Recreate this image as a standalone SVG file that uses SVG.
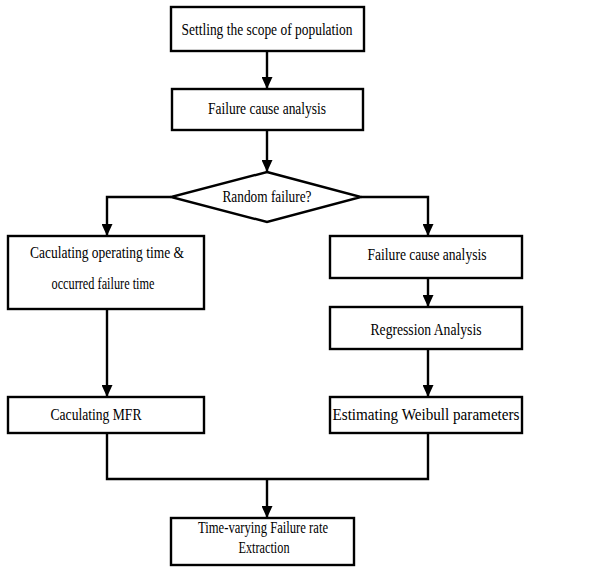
<svg xmlns="http://www.w3.org/2000/svg" width="600" height="568" viewBox="0 0 600 568">
<style>
.box{fill:#fff;stroke:#000;stroke-width:2.4}
.t{font-family:"Liberation Serif","Times New Roman",serif;font-size:16px;fill:#000;text-anchor:middle}
.c{fill:none;stroke:#000;stroke-width:2.4}
</style>
<defs>
<marker id="ah" markerUnits="userSpaceOnUse" markerWidth="12" markerHeight="11" refX="12" refY="5.5" orient="auto">
<path d="M0,0 L12,5.5 L0,11 z" fill="#000"/>
</marker>
</defs>
<rect width="600" height="568" fill="#fff"/>
<g id="connectors">
<path class="c" d="M267,51 V89" marker-end="url(#ah)"/>
<path class="c" d="M267,130 V172" marker-end="url(#ah)"/>
<path class="c" d="M171,197 H107 V236" marker-end="url(#ah)"/>
<path class="c" d="M361,197 H428 V236" marker-end="url(#ah)"/>
<path class="c" d="M428,278 V307" marker-end="url(#ah)"/>
<path class="c" d="M428,349 V397" marker-end="url(#ah)"/>
<path class="c" d="M107,309 V397" marker-end="url(#ah)"/>
<path class="c" d="M107,433 V479 H428 V433"/>
<path class="c" d="M267,479 V518" marker-end="url(#ah)"/>
</g>
<g id="n1"><rect class="box" x="171" y="7" width="193" height="44"/><text class="t" x="267" y="35" textLength="171" lengthAdjust="spacingAndGlyphs">Settling the scope of population</text></g>
<g id="n2"><rect class="box" x="172" y="89" width="191" height="41"/><text class="t" x="267" y="114" textLength="118" lengthAdjust="spacingAndGlyphs">Failure cause analysis</text></g>
<g id="n3"><polygon class="box" points="267,172 361,197 267,222 171,197"/><text class="t" x="267" y="202" textLength="89" lengthAdjust="spacingAndGlyphs">Random failure?</text></g>
<g id="n4"><rect class="box" x="8" y="236" width="196" height="73"/><text class="t" x="107" y="258" textLength="154" lengthAdjust="spacingAndGlyphs">Caculating operating time &amp;</text><text class="t" x="103" y="289" textLength="103" lengthAdjust="spacingAndGlyphs">occurred failure time</text></g>
<g id="n5"><rect class="box" x="330" y="236" width="192" height="42"/><text class="t" x="427" y="260" textLength="119" lengthAdjust="spacingAndGlyphs">Failure cause analysis</text></g>
<g id="n6"><rect class="box" x="330" y="307" width="192" height="42"/><text class="t" x="426" y="335" textLength="111" lengthAdjust="spacingAndGlyphs">Regression Analysis</text></g>
<g id="n7"><rect class="box" x="8" y="397" width="196" height="36"/><text class="t" x="96" y="420" textLength="91" lengthAdjust="spacingAndGlyphs">Caculating MFR</text></g>
<g id="n8"><rect class="box" x="330" y="397" width="192" height="36"/><text class="t" x="426" y="420" textLength="187" lengthAdjust="spacingAndGlyphs">Estimating Weibull parameters</text></g>
<g id="n9"><rect class="box" x="171" y="518" width="183" height="47"/><text class="t" x="263" y="533" textLength="130" lengthAdjust="spacingAndGlyphs">Time-varying Failure rate</text><text class="t" x="264" y="553" textLength="51" lengthAdjust="spacingAndGlyphs">Extraction</text></g>
</svg>
